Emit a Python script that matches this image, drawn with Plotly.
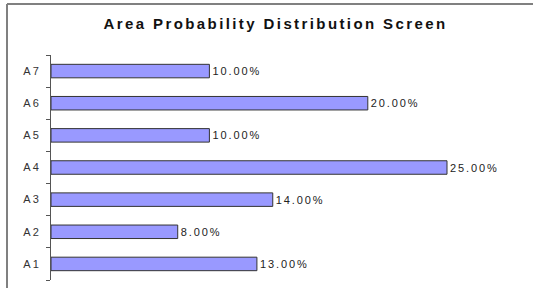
import plotly.graph_objects as go

categories = ["A1", "A2", "A3", "A4", "A5", "A6", "A7"]
values = [13.0, 8.0, 14.0, 25.0, 10.0, 20.0, 10.0]
labels = [f"{v:.2f}%" for v in values]
title = "Area Probability Distribution Screen"

W, H = 533, 288
L, R, T, B = 51, 12, 55, 8
pw, ph = W - L - R, H - T - B

def px(x):
    return (x - L) / pw

def py(y):
    return 1 - (y - T) / ph

FONT = "Arial, Liberation Sans"

def spaced(s, ls):
    return f'<span style="letter-spacing:{ls}px">{s}</span>'

fig = go.Figure(go.Bar(
    y=categories, x=values, orientation="h",
    text=[spaced(t, 1.9) for t in labels], textposition="outside", cliponaxis=False,
    textfont=dict(family=FONT, size=11, color="#222"),
    marker=dict(color="#9999FF", line=dict(color="#333333", width=1)),
    width=0.42,
))

fig.update_layout(
    width=W, height=H,
    margin=dict(l=L, r=R, t=T, b=B, autoexpand=False),
    paper_bgcolor="white", plot_bgcolor="white",
    showlegend=False,
    title=dict(text="<b>" + spaced(title, 2.4) + "</b>",
               x=px(294), xanchor="center", y=1 - 24 / H, yanchor="middle",
               font=dict(family=FONT, size=15, color="#111")),
    xaxis=dict(range=[0, pw / 15.84], visible=False),
    yaxis=dict(type="category", showline=True, linecolor="#555", linewidth=1,
               tickvals=categories, ticktext=[spaced(c, 2) for c in categories],
               ticks="outside", ticklen=4, tickcolor="#555", tickson="boundaries",
               ticklabelstandoff=7, showgrid=False, zeroline=False,
               tickfont=dict(family=FONT, size=11, color="#333")),
    shapes=[
        dict(type="line", xref="paper", yref="paper", x0=px(7), x1=px(540),
             y0=py(4), y1=py(4), line=dict(color="#808080", width=2)),
        dict(type="line", xref="paper", yref="paper", x0=px(7), x1=px(7),
             y0=py(4), y1=py(300), line=dict(color="#808080", width=2)),
    ],
)

fig.write_html("out.html", config={"displayModeBar": False},
               post_script="document.body.style.margin='0';document.body.style.overflow='hidden';")
